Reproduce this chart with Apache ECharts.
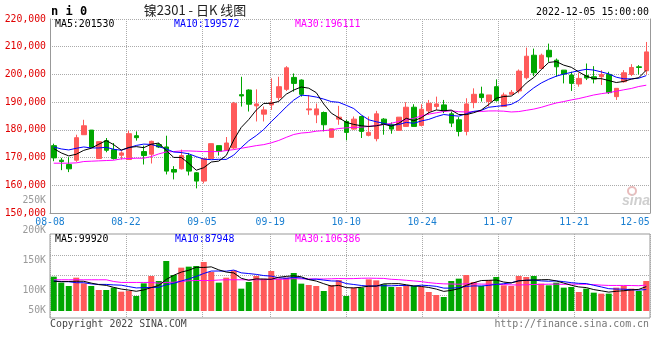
<!DOCTYPE html>
<html><head><meta charset="utf-8">
<script src="https://cdn.jsdelivr.net/npm/echarts/dist/echarts.min.js"></script>
<style>html,body{margin:0;padding:0;background:#fff}#c{width:660px;height:360px}</style>
</head><body><div id="c"></div>
<script>
const dates = ['08-08','08-09','08-10','08-11','08-12','08-15','08-16','08-17','08-18','08-19',
'08-22','08-23','08-24','08-25','08-26','08-29','08-30','08-31','09-01','09-02',
'09-05','09-06','09-07','09-08','09-09','09-13','09-14','09-15','09-16',
'09-19','09-20','09-21','09-22','09-23','09-26','09-27','09-28','09-29','09-30',
'10-10','10-11','10-12','10-13','10-14','10-17','10-18','10-19','10-20','10-21',
'10-24','10-25','10-26','10-27','10-28','10-31','11-01','11-02','11-03','11-04',
'11-07','11-08','11-09','11-10','11-11','11-14','11-15','11-16','11-17','11-18',
'11-21','11-22','11-23','11-24','11-25','11-28','11-29','11-30','12-01','12-02','12-05'];
const tickDates = ['08-08','08-22','09-05','09-19','10-10','10-24','11-07','11-21','12-05'];

const opens = [174310,169050,167500,169050,178250,179920,169650,176100,172870,170840,
169290,177890,172160,171200,174670,173830,165700,165940,170720,164510,
161520,169650,174310,172630,173470,192710,194380,188650,185660,189010,
191640,194620,198930,197970,187210,185420,186260,177300,183870,183030,
180280,184820,178010,176820,183870,181840,179810,181240,188170,181600,
186860,188410,189010,185780,183630,179450,189840,192950,190200,195580,
188410,192830,194030,198810,206930,202150,208720,205140,201550,199760,
196540,199640,199160,199160,200000,191990,197370,200000,202750,201320];
const closes = [169890,168570,165940,177180,181480,173710,175740,172630,169650,171680,
178610,177180,170720,175860,173830,165110,164750,170720,165110,161520,
169650,175020,172280,175260,189600,192230,189250,189360,187210,189840,
195580,202390,196770,192830,187570,187570,181840,180400,184580,179090,
183870,179450,179090,185780,182080,180280,184580,188170,181240,187450,
189600,189360,186860,182430,179450,189360,192830,191640,192590,190560,
192590,193550,201200,206570,200600,206930,206330,202750,200120,196770,
198570,198690,198330,200000,193430,194980,200600,202510,202510,208130];
const lows = [168690,165460,164750,168450,178250,173590,169650,171920,169290,169290,
169290,176100,167500,167860,173470,163910,162120,165700,163550,158890,
160680,169650,170720,172630,173100,188410,186620,183030,183030,187210,
190560,194030,193790,191990,185420,182430,179450,177300,181840,176220,
180040,177060,177650,175860,178250,178610,179810,181240,181240,181240,
185420,187210,186020,181000,177650,178010,187810,190200,188410,190200,
188410,192830,193190,198210,199400,202150,204540,199160,196770,194030,
195580,197970,196770,196180,192950,190800,197010,199400,200000,200000];
const highs = [175020,169890,170130,178250,183630,179920,175740,177060,175260,172280,
179690,179450,174310,176100,175260,177890,166900,172870,171680,164750,
169650,175020,174310,177420,190080,199160,194620,194620,188410,198570,
199160,202990,200360,198210,192590,189500,186620,180400,188650,183630,
184820,185060,184820,186860,184230,182670,184580,189960,189250,189250,
190800,191990,190800,186620,184580,191400,194980,195580,192590,198210,
193430,194380,201790,209680,209320,207500,211110,205740,201550,200960,
200600,203940,202990,201550,200960,194980,201550,203710,203350,211710];

const ma5 = [173230,171680,170600,171200,172610,173380,174810,176150,174640,172680,
173660,173950,173570,174810,175240,172540,170050,170050,167900,165440,
166350,168400,168720,170750,176360,180880,183720,187140,189530,189580,
190250,192880,194360,195480,195030,193430,189320,186040,184390,182700,
181960,181480,181220,181450,182050,181330,182360,184180,183270,184350,
186210,187170,186900,187140,185540,185490,186190,187140,189170,191400,
192040,192190,194100,196890,198900,201770,204330,204640,203350,202580,
200910,199380,198490,198470,197800,197080,197470,198300,198810,201530];
const ma10 = [173830,173110,172750,173350,173830,173470,173470,173710,172990,172650,
173520,174380,174860,174730,173960,173100,172000,171810,171360,170340,
169440,169230,169380,169330,170900,173610,176060,177930,180140,182970,
185560,188300,190750,192510,192300,191840,191100,190200,189940,188860,
187690,185400,183630,182920,182370,181650,181920,182700,182360,183200,
183770,184760,185540,185210,184940,185850,186680,187020,188160,188470,
188770,189190,190620,193030,195150,196910,198260,199370,200120,200740,
201340,201850,201570,200910,200190,199000,198420,198400,198640,199570];
const ma30 = [167970,167970,167970,168090,168570,168690,168810,168930,169050,169530,
169650,169770,169770,170360,171320,172040,172160,172400,172400,172280,
172160,172160,172160,172520,172870,173350,173830,174310,174670,175320,
176180,177300,178330,178850,179060,179520,179720,179980,180480,180730,
180900,180980,181250,181590,181860,182370,183030,183610,184150,185010,
185680,186150,186640,186880,186540,186450,186560,186640,186820,186840,
186740,186450,186600,187050,187490,188130,188950,189700,190210,190800,
191290,191930,192580,193050,193430,193920,194450,194930,195640,196110];

const volumes = [140800,116200,102500,136700,113400,102500,86100,86100,95700,79300,
82000,61500,113400,143500,123000,205000,147600,177700,181800,184500,
200900,159900,116200,136700,166700,91600,118900,143500,132600,164000,
132600,136700,155800,112100,106600,102500,82000,106600,127100,61500,
95700,95700,129800,125700,109300,98400,98400,105200,102500,98400,
77900,65600,57400,123000,132600,147600,118900,102500,127100,139400,
105200,102500,143500,139400,143500,112100,105200,116200,95700,98400,
77900,91600,75200,71100,71100,95700,102500,91600,82000,123000];
const vma5 = [122000,120000,121000,122000,121900,114300,108200,105000,96800,89900,
85800,80900,86400,95900,104700,129300,146500,159400,167000,179300,
178500,181000,168700,159600,156100,134200,126000,131500,130700,130100,
138300,141900,144300,140200,128800,122700,111800,102000,105000,95900,
94600,97300,102000,101700,111200,111800,112300,107400,102800,100600,
96500,89900,80400,84500,91300,105200,115900,124900,125700,127100,
118600,115300,123500,126000,126800,128200,128700,123300,114500,105500,
98700,96000,87800,82800,77400,80900,83100,86400,88600,99920];
const vma10 = [123000,121000,120000,116000,116000,111000,109000,109000,107000,105900,
100100,94600,95700,96400,97300,107600,113700,122900,131500,142000,
153900,163700,164000,163300,167700,156400,153500,150100,145200,143100,
136300,134000,137900,135500,129400,130500,126800,123200,122600,112400,
108700,104600,102000,103300,103600,103200,104800,104700,102200,105900,
104100,101100,93900,93600,95900,100900,102900,102600,105100,109200,
111900,115600,124200,125900,127000,123400,122000,123400,120300,116200,
113400,112400,105500,98700,91500,89800,89500,87100,85700,87948];
const vma30 = [128000,128000,128000,128000,128000,128000,128000,128000,121000,117000,
117000,117000,117000,117000,114000,117000,118000,121000,124000,125000,
125000,125000,127000,128000,128000,128000,128000,128000,128000,130300,
130100,130800,132500,131700,131500,131500,131300,132000,133100,132500,
132900,134100,134600,134000,133600,130000,128400,126000,123300,120500,
116400,113200,111300,110800,109700,111500,111500,110200,110000,109200,
108200,107100,106700,107600,108800,109200,109900,110200,109200,110400,
109800,109700,107900,106100,104800,104700,104800,104400,103700,106386];

const priceMin = 150000, priceMax = 220000, priceStep = 10000;
const volLabelMin = 50000, volLabelMax = 250000, volLabelStep = 50000;
const priceMaLabels = ['MA5:201530', 'MA10:199572', 'MA30:196111'];
const volMaLabels = ['MA5:99920', 'MA10:87948', 'MA30:106386'];
const titleText = '镍2301 - 日K 线图';
const codeText = 'n i 0';
const timeText = '2022-12-05 15:00:00';
const copyText = 'Copyright 2022 SINA.COM';
const urlText = 'http://finance.sina.com.cn';

const UP = '#ff5a5a', DOWN = '#00a600';
const MONO = '"DejaVu Sans Mono", "Liberation Mono", monospace';
const GRID_C = '#aaa', BORDER_C = '#999';
const tickSet = new Set(tickDates);
const lastIdx = dates.length - 1;
const maColors = ['#000000', '#0000ff', '#ff00ff'];

const chart = echarts.init(document.getElementById('c'), null, {renderer: 'canvas', width: 660, height: 360});

const candleData = opens.map((o, i) => [o, closes[i], lows[i], highs[i]]);
const volData = volumes.map((v, i) => ({value: v, itemStyle: {color: closes[i] >= opens[i] ? UP : DOWN}}));

function lineSeries(data, color, xi, yi) {
  return {type: 'line', data: data, xAxisIndex: xi, yAxisIndex: yi, showSymbol: false, symbol: 'none',
    smooth: false, lineStyle: {color: color, width: 1}, z: 5, silent: true};
}
const dotted = {color: GRID_C, type: 'dotted', width: 1};
const hiddenCat = (gi) => ({type: 'category', gridIndex: gi, data: dates, boundaryGap: true, position: 'top',
  axisLine: {show: false}, axisTick: {show: false}, axisLabel: {show: false}, splitLine: {show: false}});

function textEl(x, y, text, fill, font, align) {
  return {type: 'text', x: x, y: y, silent: true, z: 100,
    style: {text: text, fill: fill, font: font, align: align || 'left', verticalAlign: 'middle'}};
}

const option = {
  backgroundColor: '#fff',
  animation: false,
  grid: [
    {left: 50, right: 10, top: 19, bottom: 147, containLabel: false, outerBoundsMode: 'none'},
    {left: 50, right: 10, top: 234, bottom: 42, containLabel: false, outerBoundsMode: 'none', show: true, borderColor: BORDER_C, borderWidth: 1, backgroundColor: 'transparent'},
    {left: 50, right: 10, top: 200, bottom: 40, containLabel: false, outerBoundsMode: 'none'},
    {left: 50, right: 10, top: 255, bottom: 65, containLabel: false, outerBoundsMode: 'none'}
  ],
  xAxis: [
    hiddenCat(0),
    {type: 'category', gridIndex: 0, data: dates, boundaryGap: false, position: 'bottom',
      axisLine: {show: true, onZero: false, lineStyle: {color: BORDER_C, width: 1}},
      axisTick: {show: false},
      axisLabel: {show: true, interval: (i, v) => tickSet.has(v), color: '#1a7fd1', fontFamily: MONO, fontSize: 9.8, margin: 4,
        formatter: (v, i) => i === lastIdx ? '{r|' + v + '}' : v,
        rich: {r: {padding: [0, 30, 0, 0], color: '#1a7fd1', fontFamily: MONO, fontSize: 9.8}}},
      splitLine: {show: true, interval: (i, v) => tickSet.has(v), lineStyle: dotted}},
    hiddenCat(1),
    {type: 'category', gridIndex: 1, data: dates, boundaryGap: false, position: 'bottom',
      axisLine: {show: false}, axisTick: {show: false}, axisLabel: {show: false},
      splitLine: {show: true, interval: (i, v) => tickSet.has(v), lineStyle: dotted}},
    {type: 'value', gridIndex: 2, show: false, min: 0, max: 1},
    {type: 'value', gridIndex: 3, show: false, min: 0, max: 1}
  ],
  yAxis: [
    {type: 'value', gridIndex: 0, min: priceMin, max: priceMax, interval: priceStep, position: 'left',
      axisLine: {show: true, lineStyle: {color: BORDER_C, width: 1}}, axisTick: {show: false},
      axisLabel: {color: '#e00000', fontFamily: MONO, fontSize: 9.8, margin: 4, showMinLabel: true, showMaxLabel: true,
        padding: [0, 0, 4, 0]},
      splitLine: {show: true, lineStyle: dotted}},
    {type: 'value', gridIndex: 0, min: priceMin, max: priceMax, position: 'right',
      axisLine: {show: true, lineStyle: {color: BORDER_C, width: 1}}, axisTick: {show: false},
      axisLabel: {show: false}, splitLine: {show: false}},
    {type: 'value', gridIndex: 1, min: -28700, max: 315700,
      axisLine: {show: false}, axisTick: {show: false}, axisLabel: {show: false}, splitLine: {show: false}},
    {type: 'value', gridIndex: 2, min: volLabelMin, max: volLabelMax, interval: volLabelStep,
      axisLine: {show: false}, axisTick: {show: false}, splitLine: {show: false},
      axisLabel: {color: '#9a9a9a', fontFamily: MONO, fontSize: 9.8, margin: 4, showMinLabel: true, showMaxLabel: true,
        formatter: v => v === volLabelMin ? '{u|' + (v / 1000) + 'K}' : (v / 1000) + 'K',
        rich: {u: {padding: [0, 0, 20, 0], color: '#9a9a9a', fontFamily: MONO, fontSize: 9.8}}}},
    {type: 'value', gridIndex: 3, min: 0, max: 40, interval: 20,
      axisLine: {show: false}, axisTick: {show: false}, axisLabel: {show: false},
      splitLine: {show: true, lineStyle: dotted}}
  ],
  series: [
    {type: 'candlestick', xAxisIndex: 0, yAxisIndex: 0, data: candleData, barWidth: 5, silent: true,
      itemStyle: {color: UP, color0: DOWN, borderColor: UP, borderColor0: DOWN, borderWidth: 1}},
    lineSeries(ma30, maColors[2], 0, 0),
    lineSeries(ma10, maColors[1], 0, 0),
    lineSeries(ma5, maColors[0], 0, 0),
    {type: 'bar', xAxisIndex: 2, yAxisIndex: 2, data: volData, barWidth: 6, silent: true},
    lineSeries(vma30, maColors[2], 2, 2),
    lineSeries(vma10, maColors[1], 2, 2),
    lineSeries(vma5, maColors[0], 2, 2)
  ],
  graphic: [
    textEl(51, 12, codeText, '#000', 'bold 12px ' + MONO),
    textEl(195, 10, titleText, '#222', '13px "Noto Sans CJK SC", sans-serif', 'center'),
    textEl(649, 12, timeText, '#000', '9.9px ' + MONO, 'right'),
    textEl(55, 24, priceMaLabels[0], maColors[0], '9.9px ' + MONO),
    textEl(174, 24, priceMaLabels[1], maColors[1], '9.9px ' + MONO),
    textEl(295, 24, priceMaLabels[2], maColors[2], '9.9px ' + MONO),
    textEl(55, 239, volMaLabels[0], maColors[0], '9.9px ' + MONO),
    textEl(175, 239, volMaLabels[1], maColors[1], '9.9px ' + MONO),
    textEl(295, 239, volMaLabels[2], maColors[2], '9.9px ' + MONO),
    textEl(50, 324, copyText, '#444', '9.9px ' + MONO),
    textEl(649, 324, urlText, '#777', '9.9px ' + MONO, 'right'),
    {type: 'circle', shape: {cx: 632, cy: 191, r: 4}, silent: true, z: 1,
      style: {fill: 'none', stroke: '#e8bcbc', lineWidth: 2}},
    textEl(636, 201, 'sina', '#cfcfcf', 'italic bold 14px "Liberation Sans", sans-serif', 'center')
  ]
};
chart.setOption(option);
</script>
</body></html>
